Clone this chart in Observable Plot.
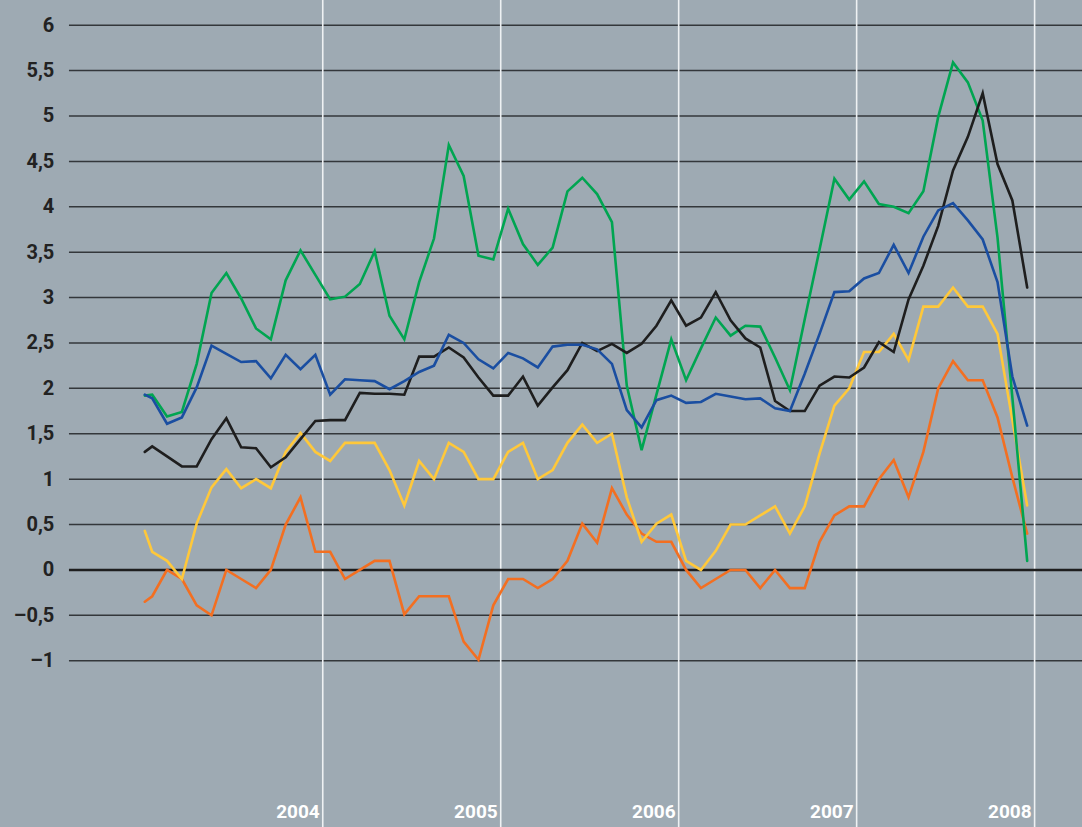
<!DOCTYPE html>
<html>
<head>
<meta charset="utf-8">
<script src="https://cdn.jsdelivr.net/npm/d3@7"></script>
<script src="https://cdn.jsdelivr.net/npm/@observablehq/plot@0.6"></script>
<style>
  html, body { margin: 0; padding: 0; background: #9eaab3; }
  #chart svg { display: block; }
</style>
</head>
<body>
<div id="chart"></div>
<script>
// Y tick values
const yTicks = [-1, -0.5, 0, 0.5, 1, 1.5, 2, 2.5, 3, 3.5, 4, 4.5, 5, 5.5, 6];
// Year labels (each labels the 12-month section ending at its white line)
const yearLabels = ["2004", "2005", "2006", "2007", "2008"];

// Monthly series: first value is the starting point at the section edge, then 60 monthly values
const greenValues = [1.92,
  1.93,1.69,1.74,2.27,3.05,3.27,2.99,2.66,2.54,3.19,3.52,3.25,
  2.98,3.01,3.15,3.51,2.80,2.54,3.17,3.65,4.68,4.34,3.46,3.42,
  3.98,3.59,3.36,3.55,4.17,4.32,4.14,3.83,2.03,1.32,1.93,2.54,
  2.09,2.44,2.78,2.58,2.69,2.68,2.34,1.98,2.76,3.53,4.31,4.08,
  4.28,4.03,4.00,3.93,4.17,4.99,5.59,5.37,4.95,3.66,1.90,0.10];
const blueValues = [1.93,
  1.89,1.61,1.68,2.01,2.47,2.38,2.29,2.30,2.11,2.37,2.21,2.37,
  1.93,2.10,2.09,2.08,1.99,2.08,2.18,2.25,2.59,2.50,2.32,2.22,
  2.39,2.33,2.23,2.46,2.48,2.48,2.43,2.27,1.76,1.57,1.87,1.92,
  1.84,1.85,1.94,1.91,1.88,1.89,1.78,1.75,2.16,2.60,3.06,3.07,
  3.21,3.27,3.58,3.27,3.67,3.96,4.04,3.85,3.64,3.17,2.13,1.59];
const blackValues = [1.30,
  1.36,1.25,1.14,1.14,1.44,1.67,1.35,1.34,1.13,1.24,1.44,1.64,
  1.65,1.65,1.95,1.94,1.94,1.93,2.35,2.35,2.45,2.34,2.12,1.92,
  1.92,2.13,1.81,2.01,2.20,2.50,2.41,2.49,2.39,2.49,2.69,2.97,
  2.69,2.78,3.06,2.75,2.55,2.45,1.86,1.75,1.75,2.03,2.13,2.12,
  2.23,2.51,2.40,2.98,3.35,3.79,4.40,4.77,5.25,4.47,4.07,3.11];
const yellowValues = [0.43,
  0.20,0.10,-0.10,0.51,0.91,1.11,0.90,1.00,0.90,1.30,1.51,1.30,
  1.20,1.40,1.40,1.40,1.10,0.71,1.20,1.00,1.40,1.30,1.00,1.00,
  1.30,1.40,1.00,1.10,1.40,1.60,1.40,1.50,0.80,0.31,0.51,0.61,
  0.10,0.00,0.21,0.50,0.50,0.60,0.70,0.40,0.70,1.28,1.81,2.00,
  2.40,2.40,2.60,2.31,2.90,2.90,3.11,2.90,2.90,2.60,1.65,0.71];
const orangeValues = [-0.35,
  -0.29,0.00,-0.10,-0.39,-0.50,0.00,-0.10,-0.20,0.00,0.50,0.80,0.20,
  0.20,-0.10,0.00,0.10,0.10,-0.49,-0.29,-0.29,-0.29,-0.79,-0.99,-0.39,
  -0.10,-0.10,-0.20,-0.10,0.10,0.51,0.30,0.90,0.61,0.40,0.31,0.31,
  0.00,-0.20,-0.10,0.00,0.00,-0.20,0.00,-0.20,-0.20,0.31,0.60,0.70,
  0.70,1.00,1.21,0.80,1.30,2.00,2.30,2.09,2.09,1.68,1.02,0.40];

const seriesList = [
  {key: "s5", values: orangeValues, color: "#f36f21"},
  {key: "s4", values: yellowValues, color: "#ffc83a"},
  {key: "s1", values: greenValues, color: "#00a551"},
  {key: "s3", values: blackValues, color: "#1e1e1e"},
  {key: "s2", values: blueValues, color: "#1a4ea1"}
];

// month position: first point at the section edge, then mid-month points
const rows = seriesList.flatMap(s => s.values.map((v, i) => ({
  series: s.key, m: i === 0 ? 0 : i - 0.5, v
})));
const yearBounds = yearLabels.map((label, i) => ({label, m: 12 * (i + 1)}));

const fmt = d => (d < 0 ? "\u2013" : "") + String(Math.abs(d)).replace(".", ",");

const chart = Plot.plot({
  width: 1082,
  height: 827,
  margin: 0,
  x: {domain: [-9.73, 63.23], axis: null},
  y: {domain: [-2.837, 6.272], axis: null},
  style: {background: "#9eaab3", fontFamily: "Roboto, 'DejaVu Sans', sans-serif"},
  marks: [
    Plot.ruleY(yTicks.filter(d => d !== 0), {y: d => d, x1: -5.08, x2: 63.23, stroke: "#33373b", strokeWidth: 1.5}),
    Plot.ruleX(yearBounds, {x: "m", stroke: "#eef1f3", strokeWidth: 1.6}),
    Plot.ruleY([0], {x1: -5.08, x2: 63.23, stroke: "#1e1e1e", strokeWidth: 2.4}),
    Plot.text(yTicks, {x: -6.1, y: d => d, text: fmt, textAnchor: "end", fill: "#222", fontSize: 20, fontWeight: 700}),
    Plot.text(yearBounds, {x: "m", y: -2.666, text: "label", textAnchor: "end", dx: -3, fill: "#ffffff", fontSize: 19, fontWeight: 700}),
    ...seriesList.map(s => Plot.line(rows.filter(r => r.series === s.key), {
      x: "m", y: "v", stroke: s.color, strokeWidth: 2.6, strokeLinejoin: "miter", strokeMiterlimit: 4
    }))
  ]
});
document.getElementById("chart").appendChild(chart);
</script>
</body>
</html>
